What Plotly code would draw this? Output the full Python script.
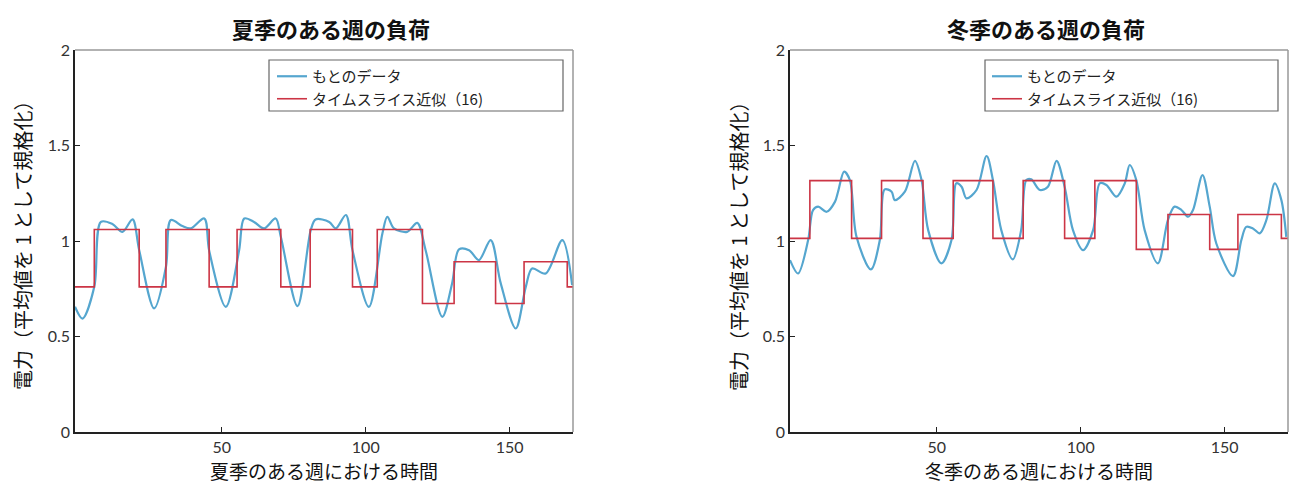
import plotly.graph_objects as go

# ---------------- data ----------------
summer_x = [-1, 1.6, 5.7, 8, 12, 15.5, 19, 21.3, 26.5, 30.6,
            32.3, 36.3, 39.2, 43.9, 45.6, 51.4, 56, 57.8, 61.2, 64.7,
            68.7, 70.5, 76.3, 80.9, 82.6, 87.3, 89.6, 93.1, 95.4, 101.1,
            105.8, 107.5, 109.8, 114.4, 117.9, 120.8, 126.6, 130, 132.4, 135.9,
            139.3, 143.4, 146.9, 152.1, 155.6, 157.8, 162.5, 168.3, 171.7]
summer_y = [0.656, 0.594, 0.76, 1.10, 1.089, 1.048, 1.113, 0.952, 0.647, 0.865,
            1.11, 1.078, 1.066, 1.118, 0.95, 0.655, 0.95, 1.118, 1.10, 1.066,
            1.118, 1.022, 0.659, 1.057, 1.113, 1.10, 1.066, 1.136, 0.952, 0.655,
            1.04, 1.127, 1.066, 1.048, 1.095, 0.952, 0.603, 0.778, 0.956, 0.952,
            0.9, 1.005, 0.778, 0.542, 0.76, 0.856, 0.83, 1.005, 0.769]

summer_step_edges = [-1, 5.7, 21.3, 30.6, 45.6, 55.3, 70.5, 80.7, 95.4, 104,
                     119.7, 130.7, 145.1, 155, 170, 172]
summer_step_levels = [0.76, 1.06, 0.76, 1.06, 0.76, 1.06, 0.76, 1.06, 0.76, 1.06,
                      0.673, 0.891, 0.673, 0.891, 0.76]

winter_x = [-1, 1.8, 5.3, 7, 8.8, 11.7, 14.6, 15.7, 17.8, 19.8,
            22.1, 27.1, 30.2, 31.9, 34.3, 35.4, 38.9, 42.4, 44.7, 47,
            51.6, 55.1, 56.8, 58.6, 60.3, 63.8, 67.3, 69.5, 72.4, 76.4,
            79.3, 81.1, 82.8, 85.8, 88.6, 91.6, 94.4, 97.3, 100.8, 104.3,
            106.6, 108.9, 112.4, 115.3, 117, 119.3, 122.2, 126.8, 130.3, 132.6,
            135, 137.3, 139, 142.3, 144.8, 147.1, 152.9, 155.8, 157.5, 159.8,
            162.2, 164.5, 167.4, 169.7, 171.4]
winter_y = [0.9, 0.83, 1.005, 1.162, 1.18, 1.153, 1.205, 1.258, 1.363, 1.319,
            1.022, 0.851, 1.005, 1.27, 1.258, 1.214, 1.258, 1.42, 1.319, 1.057,
            0.883, 1.005, 1.302, 1.284, 1.223, 1.267, 1.445, 1.319, 1.057, 0.904,
            1.057, 1.319, 1.323, 1.267, 1.284, 1.42, 1.284, 1.057, 0.952, 1.057,
            1.302, 1.293, 1.232, 1.302, 1.398, 1.319, 1.057, 0.883, 1.11, 1.18,
            1.162, 1.127, 1.162, 1.345, 1.18, 0.987, 0.816, 1.005, 1.074, 1.066,
            1.04, 1.11, 1.302, 1.214, 1.022]

winter_step_edges = [-1, 5.9, 20.4, 30.8, 45.2, 55.7, 69.5, 80, 94.4, 104.9,
                     119.3, 130.3, 144.8, 154.6, 169.7, 172]
winter_step_levels = [1.014, 1.316, 1.014, 1.316, 1.014, 1.316, 1.014, 1.316, 1.014, 1.316,
                      0.956, 1.139, 0.956, 1.139, 1.014]

titles = ["夏季のある週の負荷", "冬季のある週の負荷"]
x_titles = ["夏季のある週における時間", "冬季のある週における時間"]
y_title = "電力（平均値を 1 として規格化）"
series_names = ["もとのデータ", "タイムスライス近似（16)"]
y_tickvals = [0, 0.5, 1, 1.5, 2]
y_ticktext = ["0", "0.5", "1", "1.5", "2"]
x_tickvals = [50, 100, 150]

# ---------------- style ----------------
W, H = 1290, 484
BLUE = "#55a6cf"
RED = "#cc3545"
JP = "Noto Sans CJK JP"
NUM = "Lato"

doms = [(75 / W, 573 / W), (790 / W, 1288 / W)]
ydom = (52 / H, 1 - 50 / H)

fig = go.Figure()

panels = [
    (summer_x, summer_y, summer_step_edges, summer_step_levels),
    (winter_x, winter_y, winter_step_edges, winter_step_levels),
]

for i, (bx, by, se, sl) in enumerate(panels):
    xa = "x" if i == 0 else "x2"
    ya = "y" if i == 0 else "y2"
    lg = "legend" if i == 0 else "legend2"
    fig.add_trace(go.Scatter(
        x=bx, y=by, mode="lines", name=series_names[0],
        line=dict(color=BLUE, width=2.2, shape="spline", smoothing=0.9),
        xaxis=xa, yaxis=ya, legend=lg))
    fig.add_trace(go.Scatter(
        x=se, y=sl + [sl[-1]], mode="lines", name=series_names[1],
        line=dict(color=RED, width=1.6, shape="hv"),
        xaxis=xa, yaxis=ya, legend=lg))

axis_common = dict(showgrid=False, zeroline=False, showline=True, linecolor="#222",
                   linewidth=1.5, ticks="inside", ticklen=5, tickcolor="#222",
                   automargin=False,
                   tickfont=dict(family=NUM, size=16, color="#333"))

layout = dict(
    width=W, height=H, margin=dict(l=0, r=0, t=0, b=0, autoexpand=False),
    paper_bgcolor="white", plot_bgcolor="white",
    showlegend=True,
)
for i in range(2):
    sx = "" if i == 0 else "2"
    layout["xaxis" + sx] = dict(axis_common, domain=list(doms[i]), range=[-1, 172],
                                tickvals=x_tickvals, anchor="y" + sx)
    layout["yaxis" + sx] = dict(axis_common, domain=list(ydom), range=[0, 2],
                                tickvals=y_tickvals, ticktext=y_ticktext, anchor="x" + sx)
fig.update_layout(**layout)

leg_common = dict(bgcolor="rgba(0,0,0,0)", borderwidth=0,
                  font=dict(family=JP, size=15, color="#222"),
                  xanchor="left", yanchor="top", tracegroupgap=0, itemwidth=30)
fig.update_layout(
    legend=dict(leg_common, x=272 / W, y=1 - 60 / H),
    legend2=dict(leg_common, x=987 / W, y=1 - 60 / H),
)

shapes = []
for i in range(2):
    sx = "" if i == 0 else "2"
    shapes.append(dict(type="line", xref=f"x{sx} domain", yref=f"y{sx} domain",
                       x0=0, x1=1, y0=1, y1=1, line=dict(color="#999", width=1.5)))
    shapes.append(dict(type="line", xref=f"x{sx} domain", yref=f"y{sx} domain",
                       x0=1, x1=1, y0=0, y1=1, line=dict(color="#999", width=1.5)))
for (x0, x1) in [(269, 563), (985, 1278)]:
    shapes.append(dict(type="rect", xref="paper", yref="paper",
                       x0=x0 / W, x1=x1 / W, y0=1 - 111 / H, y1=1 - 60 / H,
                       line=dict(color="#666", width=1.2), fillcolor="rgba(0,0,0,0)"))
fig.update_layout(shapes=shapes)

annotations = []
ytitle_x = [22, 738]
for i in range(2):
    cx = (doms[i][0] + doms[i][1]) / 2
    annotations.append(dict(text="<b>" + titles[i] + "</b>", x=cx + 7 / W, y=1 - 28 / H,
                            xref="paper", yref="paper", showarrow=False,
                            xanchor="center", yanchor="middle",
                            font=dict(family=JP, size=22, color="#111")))
    annotations.append(dict(text=x_titles[i], x=cx, y=1 - 470 / H,
                            xref="paper", yref="paper", showarrow=False,
                            xanchor="center", yanchor="middle",
                            font=dict(family=JP, size=19, color="#111")))
    annotations.append(dict(text=y_title, x=ytitle_x[i] / W, y=1 - 241 / H,
                            xref="paper", yref="paper", showarrow=False, textangle=-90,
                            xanchor="center", yanchor="middle",
                            font=dict(family=JP, size=20, color="#111")))
fig.update_layout(annotations=annotations)

fig.write_html("out.html", config={"displayModeBar": False},
               post_script="document.body.style.margin='0';")
